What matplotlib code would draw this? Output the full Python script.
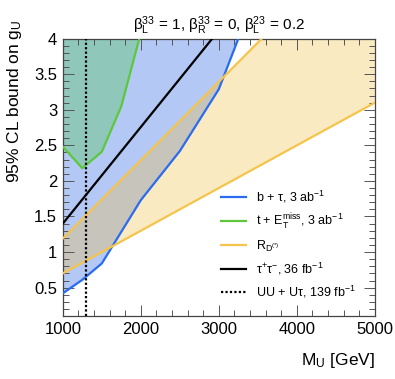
import matplotlib
matplotlib.use("Agg")
import matplotlib.pyplot as plt
import numpy as np
from matplotlib.ticker import MultipleLocator

plt.rcParams["font.family"] = ["Liberation Sans", "DejaVu Sans"]
plt.rcParams["mathtext.fontset"] = "custom"
plt.rcParams["mathtext.rm"] = "Liberation Sans"
plt.rcParams["mathtext.it"] = "Liberation Sans"
plt.rcParams["mathtext.default"] = "regular"

# b + tau, 3 ab^-1
btau_m = [1000, 1250, 1500, 2000, 2500, 3000, 3250]
btau_g = [0.42, 0.61, 0.84, 1.73, 2.42, 3.29, 4.0]
# t + ETmiss, 3 ab^-1
tmet_m = [1000, 1250, 1500, 1750, 1980]
tmet_g = [2.48, 2.18, 2.41, 3.05, 4.0]
# R_D(*) band
rd_low_m = [1000, 5000]
rd_low_g = [0.70, 3.10]
rd_up_m = [1000, 3550]
rd_up_g = [1.19, 4.0]
# tau tau, 36 fb^-1
tautau_m = [1000, 2915]
tautau_g = [1.40, 4.0]
# pair + single production, 139 fb^-1
pair_m = 1300

xmin, xmax = 1000, 5000
ymin, ymax = 0.1, 4.0

fig = plt.figure(figsize=(3.95, 3.79), dpi=100)
ax = fig.add_axes([0.159, 0.166, 0.790, 0.732])

blue = "#2a6cf0"
green = "#5cc83c"
yellow = "#f5c44a"

# fills
ax.fill_between(btau_m, btau_g, ymax, color="#b4c8f5", lw=0, zorder=1)
rd_poly_x = rd_low_m + [xmax] + rd_up_m[::-1]
rd_poly_y = rd_low_g + [ymax] + rd_up_g[::-1]
ax.fill(rd_poly_x, rd_poly_y, color=(0.94, 0.745, 0.235), alpha=0.31, lw=0, zorder=1.1)
ax.fill_between(tmet_m, tmet_g, ymax, color=(0.31, 0.78, 0.31), alpha=0.35, lw=0, zorder=1.2)

# lines
ax.plot(btau_m, btau_g, color=blue, lw=1.6, label=r"b + τ, 3 ab$^{-1}$", zorder=3)
ax.plot(tmet_m, tmet_g, color=green, lw=1.6,
        label=r"t + E$_{T}^{miss}$, 3 ab$^{-1}$", zorder=3)
ax.plot(rd_up_m, rd_up_g, color=yellow, lw=1.6, label=r"R$_{D^{(*)}}$", zorder=3)
ax.plot(rd_low_m, rd_low_g, color=yellow, lw=1.6, zorder=3)
ax.plot(tautau_m, tautau_g, color="black", lw=1.6,
        label=r"τ$^{+}$τ$^{-}$, 36 fb$^{-1}$", zorder=3)
ax.axvline(pair_m, color="black", lw=1.6, ls=(0, (1, 1)),
           label=r"UU + Uτ, 139 fb$^{-1}$", zorder=3)

ax.set_xlim(xmin, xmax)
ax.set_ylim(ymin, ymax)
ax.xaxis.set_major_locator(MultipleLocator(1000))
ax.xaxis.set_minor_locator(MultipleLocator(200))
ax.yaxis.set_minor_locator(MultipleLocator(0.1))
ax.set_yticks([0.5, 1, 1.5, 2, 2.5, 3, 3.5, 4])
ax.set_yticklabels(["0.5", "1", "1.5", "2", "2.5", "3", "3.5", "4"])
ax.tick_params(which="both", direction="in", top=True, right=True, labelsize=12, width=0.7,
               color="#555555")
ax.tick_params(which="major", length=8, pad=4)
ax.tick_params(which="minor", length=4)
for s in ax.spines.values():
    s.set_linewidth(0.9)
    s.set_color("#444444")

ax.set_xlabel(r"M$_{U}$ [GeV]", fontsize=12.5, loc="right")
ax.xaxis.set_label_coords(1.0, -0.125)
ax.set_ylabel(r"95% CL bound on g$_{U}$", fontsize=12.5, loc="top")
ax.yaxis.set_label_coords(-0.125, 1.07)
ax.set_title(r"β$_{L}^{33}$ = 1, β$_{R}^{33}$ = 0, β$_{L}^{23}$ = 0.2", fontsize=11, pad=6)

ax.legend(loc="lower right", bbox_to_anchor=(0.955, 0.04), frameon=False, fontsize=9,
          handlelength=2.0, handletextpad=0.8, labelspacing=0.55, borderaxespad=0.0)

fig.savefig("out.png", dpi=100)
